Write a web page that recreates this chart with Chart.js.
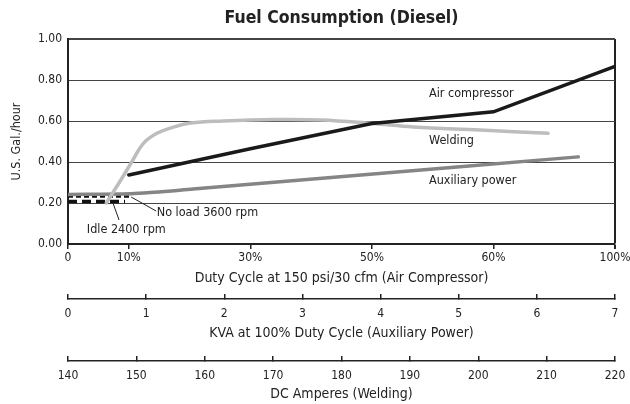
<!DOCTYPE html>
<html>
<head>
<meta charset="utf-8">
<script src="https://cdn.jsdelivr.net/npm/chart.js@4"></script>
<style>
html, body { margin: 0; padding: 0; background: #fff; }
</style>
</head>
<body>
<canvas id="chart" width="630" height="404"></canvas>
<script>
// duty cycle axis is not linear in %, so ticks sit at fixed slots
var dutyTickPos = [0, 1, 3, 5, 7, 9];
var dutyTickLabels = ["0", "10%", "30%", "50%", "60%", "100%"];

var airDuty = [10, 30, 50, 60, 100];
var airGal = [0.337, 0.465, 0.588, 0.645, 0.866];

var auxKva = [0, 0.8, 1.1, 1.6, 6.53];
var auxGal = [0.242, 0.245, 0.252, 0.268, 0.425];

var weldAmps = [145.6, 148.0, 149.5, 151.0, 153.0, 155.4, 157.9, 162.7, 170, 177, 184.5, 190.5, 200.3, 210.2];
var weldGal = [0.20, 0.327, 0.41, 0.49, 0.54, 0.57, 0.59, 0.60, 0.607, 0.605, 0.588, 0.571, 0.556, 0.540];

var idleKva = [0, 0.73];
var idleGal = [0.207, 0.207];
var noLoadKva = [0, 0.81];
var noLoadGal = [0.232, 0.232];

var FONT = '"Liberation Sans Narrow", "DejaVu Sans Condensed", "Liberation Sans", sans-serif';
var INK = "#222";

function dutySlot(pct) {
    return dutyTickPos[dutyTickLabels.indexOf(pct + "%")];
}
function pairs(xs, ys) {
    return xs.map(function (x, i) { return { x: x, y: ys[i] }; });
}
function noSidePad(scale) {
    scale.paddingLeft = 0;
    scale.paddingRight = 0;
}

// text notes placed in data coordinates of the duty (x) and gallons (y) scales
var curveNotes = [
    { text: "Air compressor", x: 5.94, y: 0.732 },
    { text: "Welding", x: 5.94, y: 0.502 },
    { text: "Auxiliary power", x: 5.94, y: 0.307 },
    { text: "No load 3600 rpm", x: 1.46, y: 0.151 },
    { text: "Idle 2400 rpm", x: 0.31, y: 0.068 }
];
var leaders = [
    [0.74, 0.20, 0.84, 0.117],
    [1.04, 0.229, 1.45, 0.161]
];

var notesPlugin = {
    id: "notes",
    afterDatasetsDraw: function (chart) {
        var ctx = chart.ctx;
        var sx = chart.scales.x, sy = chart.scales.y;
        ctx.save();
        ctx.strokeStyle = INK;
        ctx.lineWidth = 1;
        leaders.forEach(function (l) {
            ctx.beginPath();
            ctx.moveTo(sx.getPixelForValue(l[0]), sy.getPixelForValue(l[1]));
            ctx.lineTo(sx.getPixelForValue(l[2]), sy.getPixelForValue(l[3]));
            ctx.stroke();
        });
        ctx.fillStyle = INK;
        ctx.font = "12.5px " + FONT;
        ctx.textAlign = "left";
        ctx.textBaseline = "middle";
        curveNotes.forEach(function (n) {
            ctx.fillText(n.text, sx.getPixelForValue(n.x), sy.getPixelForValue(n.y));
        });
        ctx.restore();
    }
};

Chart.defaults.font.family = FONT;
Chart.defaults.font.size = 12;
Chart.defaults.color = INK;

var lastDuty = dutyTickPos.length - 1;

new Chart(document.getElementById("chart"), {
    type: "line",
    data: {
        datasets: [
            {
                label: "Air compressor",
                data: pairs(airDuty.map(dutySlot), airGal),
                xAxisID: "x",
                borderColor: "#1a1a1a",
                borderWidth: 3.5,
                borderCapStyle: "round",
                pointRadius: 0
            },
            {
                label: "Welding",
                data: pairs(weldAmps, weldGal),
                xAxisID: "amps",
                borderColor: "#bdbdbd",
                borderWidth: 3.5,
                borderCapStyle: "round",
                tension: 0.4,
                pointRadius: 0
            },
            {
                label: "Auxiliary power",
                data: pairs(auxKva, auxGal),
                xAxisID: "kva",
                borderColor: "#858585",
                borderWidth: 3.5,
                borderCapStyle: "round",
                cubicInterpolationMode: "monotone",
                pointRadius: 0
            },
            {
                label: "No load 3600 rpm",
                data: pairs(noLoadKva, noLoadGal),
                xAxisID: "kva",
                borderColor: "#111",
                borderWidth: 2.5,
                borderDash: [5, 3],
                pointRadius: 0
            },
            {
                label: "Idle 2400 rpm",
                data: pairs(idleKva, idleGal),
                xAxisID: "kva",
                borderColor: "#111",
                borderWidth: 3.5,
                borderDash: [9, 5],
                pointRadius: 0
            }
        ]
    },
    options: {
        responsive: false,
        animation: false,
        layout: { padding: { left: 0, right: 15, top: 0, bottom: 0 } },
        plugins: {
            legend: { display: false },
            tooltip: { enabled: false },
            title: {
                display: true,
                text: "Fuel Consumption (Diesel)",
                fullSize: false,
                color: INK,
                font: { size: 17.5, weight: "bold" },
                padding: { top: 8, bottom: 10 }
            }
        },
        scales: {
            x: {
                type: "linear",
                position: "bottom",
                weight: 0,
                min: 0,
                max: 9,
                afterBuildTicks: function (scale) {
                    scale.ticks = dutyTickPos.map(function (v) { return { value: v }; });
                },
                afterFit: function (scale) { scale.height = 55; noSidePad(scale); },
                ticks: {
                    padding: 2,
                    maxRotation: 0,
                    callback: function (v) { return dutyTickLabels[dutyTickPos.indexOf(v)]; }
                },
                grid: {
                    color: function (c) { return c.index === lastDuty ? INK : "rgba(0,0,0,0)"; },
                    tickColor: INK,
                    lineWidth: function (c) { return c.index === lastDuty ? 2 : 1.5; },
                    tickLength: 5
                },
                border: { display: true, color: INK, width: 2 },
                title: {
                    display: true,
                    text: "Duty Cycle at 150 psi/30 cfm (Air Compressor)",
                    font: { size: 14 },
                    padding: { top: 0, bottom: 12 }
                }
            },
            kva: {
                type: "linear",
                position: "bottom",
                weight: 1,
                min: 0,
                max: 7,
                afterFit: function (scale) { scale.height = 62; noSidePad(scale); },
                ticks: { stepSize: 1, padding: 13, maxRotation: 0 },
                grid: {
                    drawOnChartArea: false,
                    color: INK,
                    lineWidth: 1.5,
                    tickLength: -5
                },
                border: { display: true, color: INK, width: 1.5 },
                title: {
                    display: true,
                    text: "KVA at 100% Duty Cycle (Auxiliary Power)",
                    font: { size: 14 },
                    padding: { top: 0, bottom: 19 }
                }
            },
            amps: {
                type: "linear",
                position: "bottom",
                weight: 2,
                min: 140,
                max: 220,
                afterFit: function (scale) { scale.height = 43; noSidePad(scale); },
                ticks: { stepSize: 10, padding: 13, maxRotation: 0 },
                grid: {
                    drawOnChartArea: false,
                    color: INK,
                    lineWidth: 1.5,
                    tickLength: -5
                },
                border: { display: true, color: INK, width: 1.5 },
                title: {
                    display: true,
                    text: "DC Amperes (Welding)",
                    font: { size: 14 },
                    padding: { top: 0, bottom: 1.5 }
                }
            },
            y: {
                min: 0,
                max: 1,
                afterFit: function (scale) { scale.width = 68; },
                ticks: {
                    stepSize: 0.2,
                    padding: 6,
                    callback: function (v) { return v.toFixed(2); }
                },
                grid: {
                    color: "#444",
                    lineWidth: function (c) { return c.tick && c.tick.value >= 0.999 ? 2 : 1; },
                    drawTicks: false
                },
                border: { display: true, color: INK, width: 2 },
                title: {
                    display: true,
                    text: "U.S. Gal./hour",
                    font: { size: 12.5 },
                    padding: { top: 9, bottom: 0 }
                }
            }
        }
    },
    plugins: [notesPlugin]
});
</script>
</body>
</html>
